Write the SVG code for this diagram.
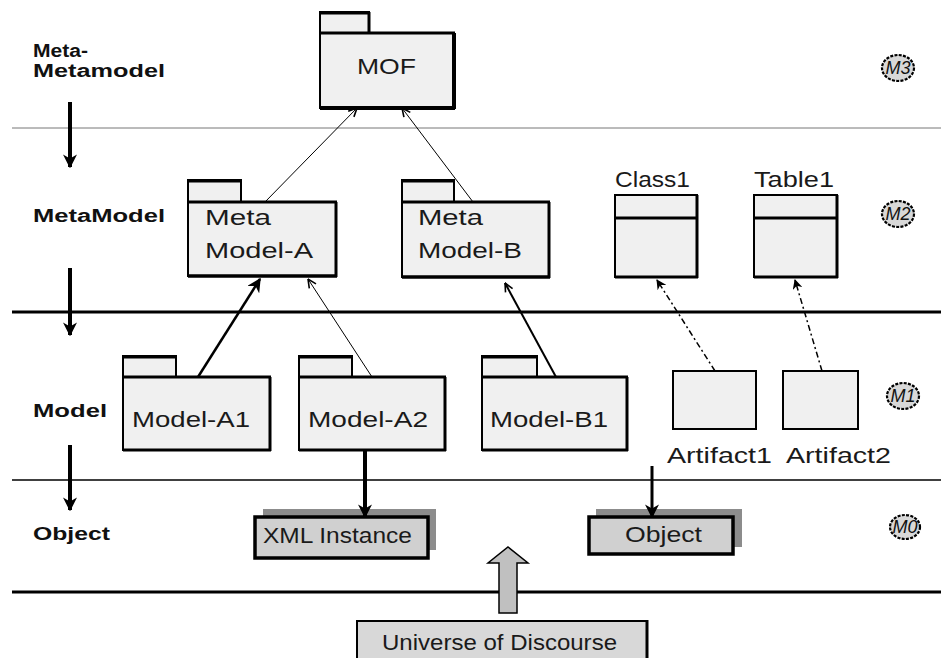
<svg xmlns="http://www.w3.org/2000/svg" width="941" height="658" viewBox="0 0 941 658">
  <style>
    .lbl { font-family: "Liberation Sans", Arial, sans-serif; font-weight: bold; font-size: 18px; fill: #111; }
    .txt { font-family: "Liberation Sans", Arial, sans-serif; font-size: 22px; fill: #1a1a1a; }
    .pkg { fill: #f0f0f0; stroke: #000; stroke-width: 2; }
    .edge { stroke: #000; stroke-width: 4; fill: none; }
    .inst { fill: #d0d0d0; stroke: #000; stroke-width: 3.5; }
    .shadow { fill: #8c8c8c; }
    .badge { fill: #d8d8d8; stroke: #000; stroke-width: 2.2; stroke-dasharray: 3 1.3; }
    .btxt { font-family: "Liberation Sans", Arial, sans-serif; font-style: italic; font-size: 18px; fill: #111; }
  </style>
  <defs>
    <marker id="solid" viewBox="0 0 10 10" refX="9" refY="5" markerWidth="14" markerHeight="14" markerUnits="userSpaceOnUse" orient="auto">
      <path d="M0,0 L10,5 L0,10 L3,5 z" fill="#000"/>
    </marker>
    <marker id="solidSmall" viewBox="0 0 10 10" refX="9" refY="5" markerWidth="10" markerHeight="10" markerUnits="userSpaceOnUse" orient="auto">
      <path d="M0,0 L10,5 L0,10 L3,5 z" fill="#000"/>
    </marker>
    <marker id="open" viewBox="0 0 10 10" refX="9.5" refY="5" markerWidth="10" markerHeight="10" markerUnits="userSpaceOnUse" orient="auto">
      <path d="M1,1 L9.5,5 L1,9" fill="none" stroke="#000" stroke-width="1.6"/>
    </marker>
  </defs>

  <!-- layer separators -->
  <g id="separators">
    <line x1="12" y1="128" x2="941" y2="128" stroke="#777" stroke-width="1"/>
    <line x1="12" y1="312" x2="941" y2="312" stroke="#000" stroke-width="3"/>
    <line x1="12" y1="480" x2="941" y2="480" stroke="#000" stroke-width="1.6"/>
    <line x1="12" y1="592" x2="941" y2="592" stroke="#000" stroke-width="3"/>
  </g>

  <!-- layer names -->
  <g id="layer-labels">
    <text class="lbl" x="33" y="57" textLength="55" lengthAdjust="spacingAndGlyphs">Meta-</text>
    <text class="lbl" x="33" y="77" textLength="132" lengthAdjust="spacingAndGlyphs">Metamodel</text>
    <text class="lbl" x="33" y="222" textLength="132" lengthAdjust="spacingAndGlyphs">MetaModel</text>
    <text class="lbl" x="33" y="417" textLength="74" lengthAdjust="spacingAndGlyphs">Model</text>
    <text class="lbl" x="33" y="540" textLength="77" lengthAdjust="spacingAndGlyphs">Object</text>
    <line class="edge" x1="70" y1="102" x2="70" y2="167" stroke-width="3" marker-end="url(#solid)"/>
    <line class="edge" x1="70" y1="268" x2="70" y2="335" stroke-width="3" marker-end="url(#solid)"/>
    <line class="edge" x1="70" y1="445" x2="70" y2="510" stroke-width="3" marker-end="url(#solid)"/>
  </g>

  <!-- level badges -->
  <g id="badge-m3">
    <ellipse class="badge" cx="898" cy="68" rx="16" ry="13"/>
    <text class="btxt" x="898" y="74" text-anchor="middle">M3</text>
  </g>
  <g id="badge-m2">
    <ellipse class="badge" cx="898" cy="214" rx="16" ry="13"/>
    <text class="btxt" x="898" y="220" text-anchor="middle">M2</text>
  </g>
  <g id="badge-m1">
    <ellipse class="badge" cx="903" cy="396" rx="16" ry="13"/>
    <text class="btxt" x="903" y="402" text-anchor="middle">M1</text>
  </g>
  <g id="badge-m0">
    <ellipse class="badge" cx="905" cy="527" rx="15" ry="12"/>
    <text class="btxt" x="905" y="533" text-anchor="middle">M0</text>
  </g>

  <!-- MOF package -->
  <g id="mof">
    <rect class="pkg" x="320" y="12" width="49" height="21"/>
    <line x1="320" y1="13" x2="369" y2="13" stroke="#000" stroke-width="3"/>
    <line x1="369" y1="12" x2="369" y2="33" stroke="#000" stroke-width="3"/>
    <rect class="pkg" x="320" y="33" width="134" height="75"/>
    <line x1="320" y1="33" x2="455" y2="33" stroke="#000" stroke-width="3"/>
    <line x1="454" y1="33" x2="454" y2="109" stroke="#000" stroke-width="4"/>
    <line x1="320" y1="108" x2="455" y2="108" stroke="#000" stroke-width="4"/>
    <text class="txt" x="357" y="74" font-size="25" textLength="59" lengthAdjust="spacingAndGlyphs">MOF</text>
  </g>

  <!-- Meta Model-A package -->
  <g id="metamodel-a">
    <rect class="pkg" x="188" y="180" width="53" height="22"/>
    <line x1="188" y1="181" x2="241" y2="181" stroke="#000" stroke-width="3"/>
    <rect class="pkg" x="188" y="202" width="148" height="74"/>
    <line x1="188" y1="202" x2="337" y2="202" stroke="#000" stroke-width="3"/>
    <line x1="336" y1="202" x2="336" y2="277" stroke="#000" stroke-width="3"/>
    <line x1="188" y1="276" x2="337" y2="276" stroke="#000" stroke-width="3.5"/>
    <text class="txt" x="205" y="225" textLength="66" lengthAdjust="spacingAndGlyphs">Meta</text>
    <text class="txt" x="205" y="258" textLength="108" lengthAdjust="spacingAndGlyphs">Model-A</text>
  </g>

  <!-- Meta Model-B package -->
  <g id="metamodel-b">
    <rect class="pkg" x="402" y="180" width="52" height="22"/>
    <line x1="402" y1="181" x2="454" y2="181" stroke="#000" stroke-width="3"/>
    <rect class="pkg" x="402" y="202" width="147" height="75"/>
    <line x1="402" y1="202" x2="550" y2="202" stroke="#000" stroke-width="3"/>
    <line x1="549" y1="202" x2="549" y2="278" stroke="#000" stroke-width="3"/>
    <line x1="402" y1="277" x2="550" y2="277" stroke="#000" stroke-width="3.5"/>
    <text class="txt" x="418" y="225" textLength="65" lengthAdjust="spacingAndGlyphs">Meta</text>
    <text class="txt" x="418" y="258" textLength="104" lengthAdjust="spacingAndGlyphs">Model-B</text>
  </g>

  <!-- Class1 -->
  <g id="class1">
    <text class="txt" x="615" y="187" textLength="75" lengthAdjust="spacingAndGlyphs">Class1</text>
    <rect class="pkg" x="615" y="195" width="82" height="82"/>
    <line x1="615" y1="218" x2="698" y2="218" stroke="#000" stroke-width="3"/>
    <line x1="697" y1="195" x2="697" y2="278" stroke="#000" stroke-width="3"/>
    <line x1="615" y1="277" x2="698" y2="277" stroke="#000" stroke-width="3"/>
  </g>

  <!-- Table1 -->
  <g id="table1">
    <text class="txt" x="754" y="187" textLength="80" lengthAdjust="spacingAndGlyphs">Table1</text>
    <rect class="pkg" x="754" y="195" width="83" height="82"/>
    <line x1="754" y1="218" x2="838" y2="218" stroke="#000" stroke-width="3"/>
    <line x1="837" y1="195" x2="837" y2="278" stroke="#000" stroke-width="3"/>
    <line x1="754" y1="277" x2="838" y2="277" stroke="#000" stroke-width="3"/>
  </g>

  <!-- Model-A1 -->
  <g id="model-a1">
    <rect class="pkg" x="123" y="356" width="53" height="21"/>
    <line x1="123" y1="357" x2="176" y2="357" stroke="#000" stroke-width="3"/>
    <rect class="pkg" x="123" y="377" width="147" height="73"/>
    <line x1="123" y1="377" x2="271" y2="377" stroke="#000" stroke-width="3"/>
    <line x1="270" y1="377" x2="270" y2="451" stroke="#000" stroke-width="3"/>
    <line x1="123" y1="450" x2="271" y2="450" stroke="#000" stroke-width="3"/>
    <text class="txt" x="132" y="427" textLength="118" lengthAdjust="spacingAndGlyphs">Model-A1</text>
  </g>

  <!-- Model-A2 -->
  <g id="model-a2">
    <rect class="pkg" x="299" y="356" width="53" height="21"/>
    <line x1="299" y1="357" x2="352" y2="357" stroke="#000" stroke-width="3"/>
    <rect class="pkg" x="299" y="377" width="146" height="73"/>
    <line x1="299" y1="377" x2="446" y2="377" stroke="#000" stroke-width="3"/>
    <line x1="445" y1="377" x2="445" y2="451" stroke="#000" stroke-width="3"/>
    <line x1="299" y1="450" x2="446" y2="450" stroke="#000" stroke-width="3"/>
    <text class="txt" x="308" y="427" textLength="120" lengthAdjust="spacingAndGlyphs">Model-A2</text>
  </g>

  <!-- Model-B1 -->
  <g id="model-b1">
    <rect class="pkg" x="482" y="356" width="55" height="21"/>
    <line x1="482" y1="357" x2="537" y2="357" stroke="#000" stroke-width="3"/>
    <rect class="pkg" x="482" y="377" width="145" height="73"/>
    <line x1="482" y1="377" x2="628" y2="377" stroke="#000" stroke-width="3"/>
    <line x1="627" y1="377" x2="627" y2="451" stroke="#000" stroke-width="3"/>
    <line x1="482" y1="450" x2="628" y2="450" stroke="#000" stroke-width="3"/>
    <text class="txt" x="490" y="427" textLength="118" lengthAdjust="spacingAndGlyphs">Model-B1</text>
  </g>

  <!-- Artifacts -->
  <g id="artifact1">
    <rect class="pkg" x="673" y="371" width="83" height="58"/>
    <text class="txt" x="667" y="463" textLength="105" lengthAdjust="spacingAndGlyphs">Artifact1</text>
  </g>
  <g id="artifact2">
    <rect class="pkg" x="783" y="371" width="75" height="58"/>
    <text class="txt" x="786" y="463" textLength="105" lengthAdjust="spacingAndGlyphs">Artifact2</text>
  </g>

  <!-- Instances -->
  <g id="xml-instance">
    <rect class="shadow" x="263" y="509" width="173" height="41"/>
    <rect class="inst" x="255" y="517" width="173" height="41"/>
    <text class="txt" x="263" y="543" font-size="20" textLength="149" lengthAdjust="spacingAndGlyphs">XML Instance</text>
  </g>
  <g id="object">
    <rect class="shadow" x="596" y="509" width="146" height="38"/>
    <rect class="inst" x="589" y="517" width="144" height="37"/>
    <text class="txt" x="625" y="542" font-size="20" textLength="77" lengthAdjust="spacingAndGlyphs">Object</text>
  </g>

  <!-- Universe of Discourse -->
  <g id="universe">
    <rect x="357" y="621" width="290" height="45" fill="#d8d8d8" stroke="#000" stroke-width="2"/>
    <line x1="647" y1="620" x2="647" y2="658" stroke="#000" stroke-width="3"/>
    <text class="txt" x="382" y="650" font-size="20" textLength="235" lengthAdjust="spacingAndGlyphs">Universe of Discourse</text>
    <path d="M499,613 L499,563 L488,563 L508,547 L528,563 L517,563 L517,613 Z" fill="#c0c0c0" stroke="#000" stroke-width="1.5"/>
  </g>

  <!-- connectors -->
  <g id="connectors">
    <line x1="265" y1="202" x2="357" y2="108" stroke="#000" stroke-width="1" marker-end="url(#open)"/>
    <line x1="473" y1="202" x2="402" y2="108" stroke="#000" stroke-width="1" marker-end="url(#open)"/>
    <line x1="198" y1="377" x2="260" y2="279" stroke="#000" stroke-width="2.5" marker-end="url(#solid)"/>
    <line x1="372" y1="377" x2="308" y2="279" stroke="#000" stroke-width="1" marker-end="url(#open)"/>
    <line x1="556" y1="377" x2="505" y2="283" stroke="#000" stroke-width="2" marker-end="url(#open)"/>
    <line x1="715" y1="371" x2="657" y2="280" stroke="#000" stroke-width="1.5" stroke-dasharray="6 3 2 3" marker-end="url(#solidSmall)"/>
    <line x1="822" y1="371" x2="795" y2="280" stroke="#000" stroke-width="1.5" stroke-dasharray="6 3 2 3" marker-end="url(#solidSmall)"/>
    <line x1="365" y1="451" x2="365" y2="517" stroke="#000" stroke-width="4" marker-end="url(#solid)"/>
    <line x1="652" y1="466" x2="652" y2="517" stroke="#000" stroke-width="3" marker-end="url(#solid)"/>
  </g>
</svg>
